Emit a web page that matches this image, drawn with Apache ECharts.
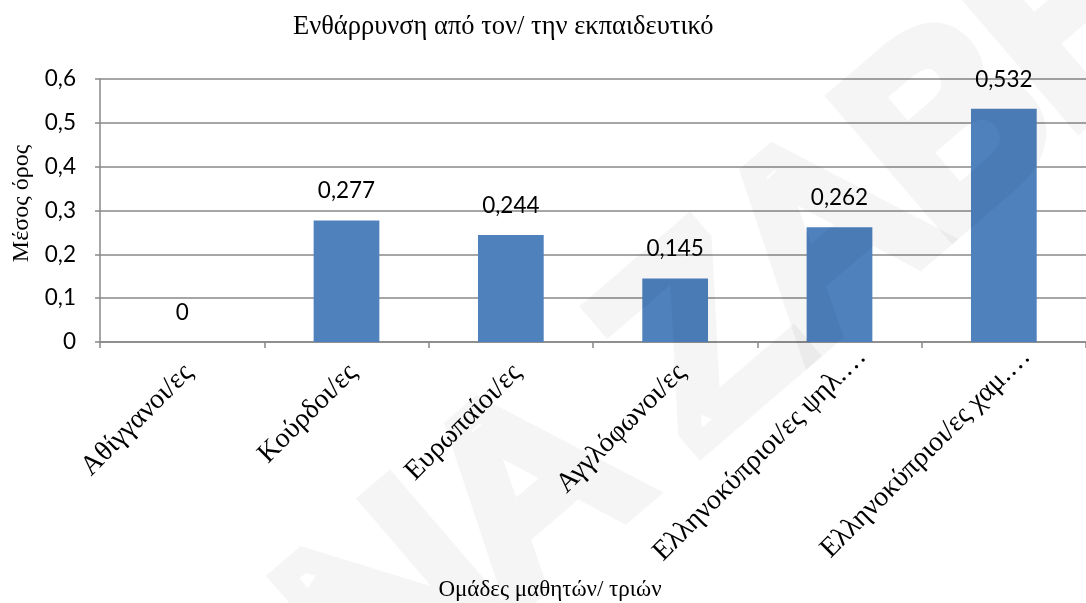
<!DOCTYPE html>
<html>
<head>
<meta charset="utf-8">
<script src="https://cdn.jsdelivr.net/npm/echarts@6/dist/echarts.min.js"></script>
<style>
  html, body { margin: 0; padding: 0; background: #ffffff; }
  #chart { width: 1086px; height: 603px; }
</style>
</head>
<body>
<div id="chart"></div>
<script>
// Mean score per student group
const categories = [
  'Αθίγγανοι/ες',
  'Κούρδοι/ες',
  'Ευρωπαίοι/ες',
  'Αγγλόφωνοι/ες',
  'Ελληνοκύπριοι/ες ψηλ.…',
  'Ελληνοκύπριοι/ες χαμ.…'
];
const meanValues = [0, 0.277, 0.244, 0.145, 0.262, 0.532];
const yTicks = [0, 0.1, 0.2, 0.3, 0.4, 0.5, 0.6];

const titleText = 'Ενθάρρυνση από τον/ την εκπαιδευτικό';
const yName = 'Μέσος όρος';
const xName = 'Ομάδες μαθητών/ τριών';
const watermarkText = 'ΑΝΑ ΖΑΒΒΑ';

const serif = '"Liberation Serif", "Times New Roman", serif';
const sans = 'Lato, "Liberation Sans", sans-serif';
const gridColor = '#888888';

// decimal comma
const fmt = v => String(v).replace('.', ',');

const chart = echarts.init(document.getElementById('chart'), null, { renderer: 'canvas' });
chart.setOption({
  backgroundColor: '#ffffff',
  animation: false,
  title: {
    text: titleText,
    left: 288,
    top: 9,
    textStyle: { fontFamily: serif, fontSize: 26.5, fontWeight: 'normal', color: '#000' }
  },
  // plot area runs slightly past the right edge of the canvas
  grid: { left: 100, right: -8, top: 79, bottom: 261, containLabel: false },
  xAxis: {
    type: 'category',
    data: categories,
    name: xName,
    nameLocation: 'middle',
    nameGap: 236,
    nameTextStyle: { fontFamily: serif, fontSize: 23, color: '#000', padding: [0, 86, 0, 0] },
    axisLine: { show: true, lineStyle: { color: gridColor, width: 1.5 } },
    axisTick: { show: true, length: 6, alignWithLabel: false, interval: 0, lineStyle: { color: gridColor, width: 1.5 } },
    axisLabel: {
      interval: 0,
      rotate: 45,
      margin: 33,
      fontFamily: serif,
      fontSize: 28,
      color: '#000',
      // labels sit a little further along their slant; truncated ones more so
      formatter: v => v.endsWith('…') ? '{long|' + v + '}' : '{short|' + v + '}',
      rich: {
        short: { fontFamily: serif, fontSize: 28, color: '#000', padding: [0, -9, 0, 0] },
        long: { fontFamily: serif, fontSize: 28, color: '#000', padding: [0, -32, 0, 0] }
      }
    }
  },
  yAxis: {
    type: 'value',
    min: yTicks[0],
    max: yTicks[yTicks.length - 1],
    interval: 0.1,
    name: yName,
    nameLocation: 'middle',
    nameRotate: 90,
    nameGap: 65,
    nameTextStyle: { fontFamily: serif, fontSize: 24, color: '#000', padding: [0, 0, 0, 14] },
    axisLine: { show: true, lineStyle: { color: gridColor, width: 1.5 } },
    axisTick: { show: true, length: 5, lineStyle: { color: gridColor, width: 1.5 } },
    axisLabel: {
      margin: 24,
      fontFamily: sans,
      fontSize: 22.5,
      color: '#000',
      formatter: v => fmt(Math.round(v * 10) / 10)
    },
    splitLine: { show: true, lineStyle: { color: gridColor, width: 1.5 } }
  },
  series: [{
    type: 'bar',
    data: meanValues,
    barWidth: '40%',
    itemStyle: { color: '#4f81bd' },
    label: {
      show: true,
      position: 'top',
      distance: 18,
      fontFamily: sans,
      fontSize: 22.5,
      color: '#000',
      formatter: p => fmt(p.value)
    }
  }],
  graphic: [{
    type: 'text',
    z: 100,
    silent: true,
    x: 740,
    y: 320,
    rotation: 0.71,
    style: {
      text: watermarkText,
      fontFamily: '"Liberation Sans", sans-serif',
      fontSize: 250,
      fill: 'rgba(0,0,0,0)',
      stroke: 'rgba(0,0,0,0.04)',
      lineWidth: 24,
      align: 'center',
      verticalAlign: 'middle'
    }
  }]
});
</script>
</body>
</html>
